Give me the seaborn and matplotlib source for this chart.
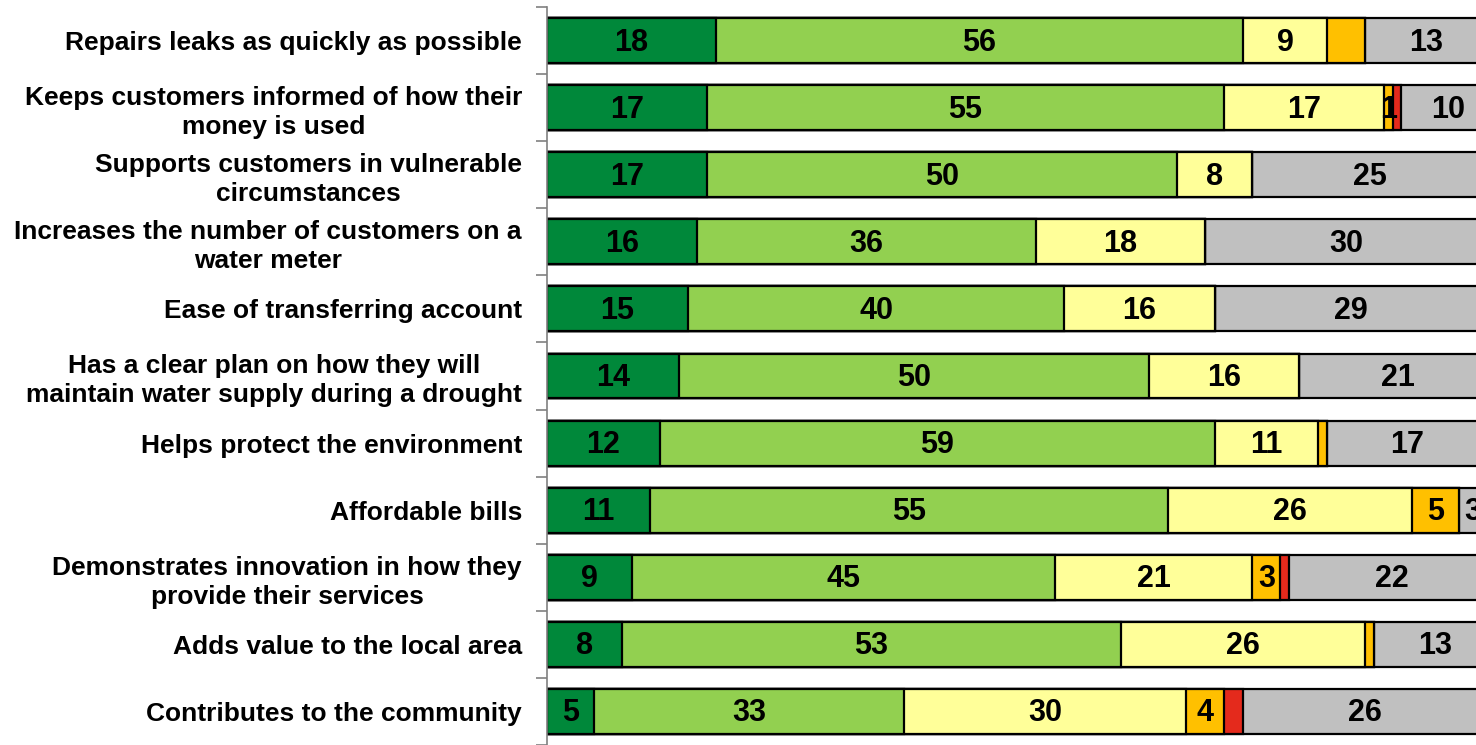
import numpy as np
import pandas as pd
import matplotlib
matplotlib.use("Agg")
import matplotlib.pyplot as plt
import seaborn as sns

categories = [
    "Repairs leaks as quickly as possible",
    "Keeps customers informed of how their\nmoney is used",
    "Supports customers in vulnerable\ncircumstances",
    "Increases the number of customers on a\nwater meter",
    "Ease of transferring account",
    "Has a clear plan on how they will\nmaintain water supply during a drought",
    "Helps protect the environment",
    "Affordable bills",
    "Demonstrates innovation in how they\nprovide their services",
    "Adds value to the local area",
    "Contributes to the community",
]

very_good = [18, 17, 17, 16, 15, 14, 12, 11, 9, 8, 5]
fairly_good = [56, 55, 50, 36, 40, 50, 59, 55, 45, 53, 33]
neither = [9, 17, 8, 18, 16, 16, 11, 26, 21, 26, 30]
fairly_poor = [4, 1, 0, 0, 0, 0, 1, 5, 3, 1, 4]
very_poor = [0, 0.8, 0, 0, 0, 0, 0, 0, 0.9, 0, 2]
dont_know = [13, 10, 25, 30, 29, 21, 17, 3, 22, 13, 26]

# which segments carry a printed value
label_fairly_poor = [False, True, False, False, False, False, False, True, True, False, True]
label_very_poor = [False] * 11

series = [very_good, fairly_good, neither, fairly_poor, very_poor, dont_know]
shown = [[True] * 11, [True] * 11, [True] * 11, label_fairly_poor, label_very_poor, [True] * 11]
colors = ["#00883A", "#92D050", "#FFFF99", "#FFC000", "#E42A1C", "#C0C0C0"]

sns.set_theme(style="white")
plt.rcParams["font.family"] = ["Liberation Sans", "DejaVu Sans"]

fig = plt.figure(figsize=(14.76, 7.45), dpi=100)
ax = fig.add_axes([547 / 1476, 0.0, 1 - 547 / 1476, 1 - 7 / 745])

vals = np.array(series, dtype=float)
cum = np.cumsum(vals, axis=0)

# stacked bars: draw cumulative totals from the outermost segment inwards
for i in range(len(series) - 1, -1, -1):
    df = pd.DataFrame({"category": categories, "value": cum[i]})
    sns.barplot(data=df, y="category", x="value", orient="h", color=colors[i],
                width=0.67, edgecolor="black", linewidth=1.6, saturation=1,
                ax=ax, order=categories)

for i in range(len(series)):
    for j in range(len(categories)):
        v = vals[i, j]
        if v > 0 and shown[i][j]:
            x = cum[i, j] - v / 2
            ax.text(x, j + 0.03, f"{v:g}", ha="center", va="center", fontsize=22,
                    fontweight="bold", color="black")

ax.set_xlim(0, 98.8)
ax.set_ylim(10.5, -0.5)
ax.set_xlabel("")
ax.set_ylabel("")
ax.set_xticks([])
for s in ["top", "right", "bottom"]:
    ax.spines[s].set_visible(False)
ax.spines["left"].set_color("#808080")
ax.spines["left"].set_linewidth(1.2)

ax.set_yticks(range(len(categories)))
ax.set_yticklabels(categories, fontsize=19, fontweight="bold", multialignment="center",
                   linespacing=1.25)
ax.set_yticks(np.arange(-0.5, len(categories), 1), minor=True)
ax.tick_params(axis="y", which="major", length=0, pad=18, colors="black")
ax.tick_params(axis="y", which="minor", length=8, width=1.2, color="#808080", left=True)

fig.savefig("out.png", dpi=100)
